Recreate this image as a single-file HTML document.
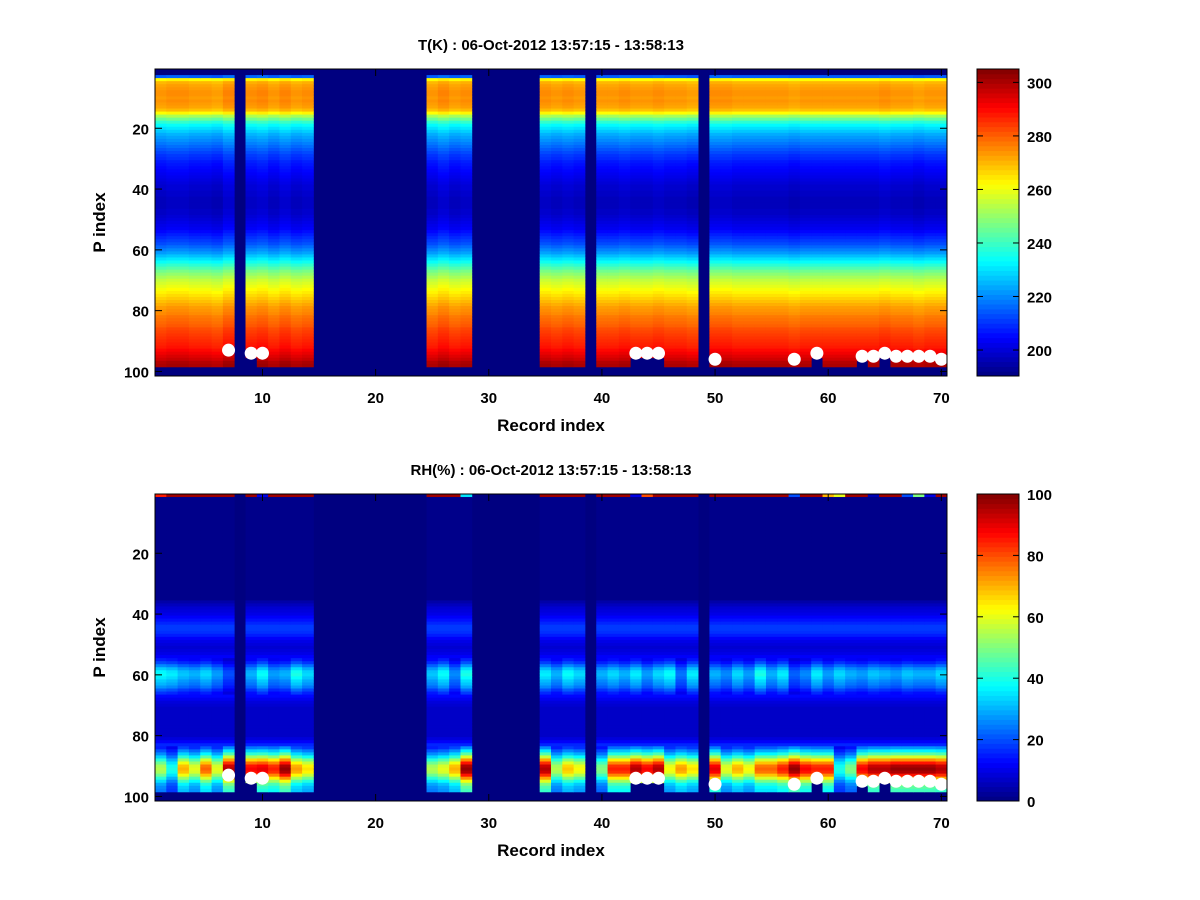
<!DOCTYPE html>
<html><head><meta charset="utf-8">
<style>
body{margin:0;background:#fff;}
svg{display:block;font-family:"Liberation Sans",sans-serif;font-weight:bold;}
</style></head>
<body>
<svg id="fig" width="1200" height="900" viewBox="0 0 1200 900" xmlns="http://www.w3.org/2000/svg">
<rect width="1200" height="900" fill="#fff"/>
<g id="p1"></g>
<g id="p2"></g>
</svg>
<script>
// ---- data ----
const records = Array.from({length:70},(_,i)=>i+1);
const validRecords = [1,2,3,4,5,6,7,9,10,11,12,13,14,25,26,27,28,35,36,37,38,40,41,42,43,44,45,46,47,48,50,51,52,53,54,55,56,57,58,59,60,61,62,63,64,65,66,67,68,69,70];
// temperature profile (K) by P index 1..98; null = missing
const tProfile = [null,null,215,262,270,272,273,274,274,273,274,273,272,269,262,252,245,238,233,230,227,224,222,220,218,216,214,212,210,209,207,206,205,204,203,202,201,200,199,199,198,198,197,197,197,197,198,198,199,200,201,202,203,205,207,209,211,213,216,219,222,226,230,234,238,242,246,249,252,255,257,259,261,263,265,267,269,271,273,274,275,277,278,279,280,282,283,284,285,286,287,288,290,292,294,296,299,300];
// per-record temperature offsets
const tOffset = [0,1,1,0,0,-1,2,0,1,2,0,2,0,1,0,0,0,0,0,0,0,0,0,0,0,2,0,1,0,0,0,0,0,0,1,0,1,0,0,0,0,1,0,0,1,0,0,-1,0,1,1,0,0,0,0,0,-1,0,0,0,0,0,0,0,1,0,0,-1,0,0];
// relative humidity profile (%) by P index 1..98
const rhProfile = [95,1,1,1,1,1,1,1,1,1,1,1,1,1,1,1,1,1,1,1,1,1,1,1,1,1,1,1,1,1,1,1,1,1,1,4,6,8,9,10,12,14,16,18,18,17,15,12,10,9,8,9,10,12,14,18,24,30,34,35,33,30,28,25,20,16,13,11,9,8,7,7,7,7,7,7,7,7,7,7,9,12,16,22,30,38,48,60,70,78,80,78,70,60,50,42,38,36];
// per-record near-surface humidity maxima
const rhLow = [55,40,70,60,78,60,95,0,88,90,85,98,72,65,0,0,0,0,0,0,0,0,0,0,55,60,70,98,0,0,0,0,0,0,95,55,68,62,0,50,85,85,95,88,95,62,72,65,0,90,60,70,62,78,78,85,98,88,85,85,40,50,88,95,95,98,98,98,98,95];
// per-record mid-level humidity band
const rhMid = [38,36,32,30,34,28,20,0,30,38,28,30,40,34,0,0,0,0,0,0,0,0,0,0,32,38,26,40,0,0,0,0,0,0,36,30,38,34,0,30,34,30,36,28,34,38,24,36,0,30,26,34,28,40,30,36,22,26,36,28,34,30,28,32,30,28,32,30,30,34];
// per-record top-level humidity
const rhTop = [85,97,97,97,97,97,97,0,97,10,97,97,97,97,0,0,0,0,0,0,0,0,0,0,97,97,97,35,0,0,0,0,0,0,97,97,97,97,0,97,97,97,10,80,97,97,97,97,0,97,97,97,97,97,97,97,20,97,97,70,60,97,97,5,97,97,20,50,10,97];
// surface markers
const dotRecords = [7,9,10,43,44,45,50,57,59,63,64,65,66,67,68,69,70];
const dotLevels  = [93,94,94,94,94,94,96,96,94,95,95,94,95,95,95,95,96];
// last valid level per record (default 98)
const bottomRecords = [9,43,44,45,59,63,65];
const bottomLevels  = [95,95,95,95,95,96,95];
const tTicks = [200,220,240,260,280,300];
const rhTicks = [0,20,40,60,80,100];
const xTicks = [10,20,30,40,50,60,70];
const yTicks = [20,40,60,80,100];

const NS='http://www.w3.org/2000/svg';
function jet(f){f=Math.max(0,Math.min(1,f));const c=v=>Math.round(255*Math.max(0,Math.min(1,v)));
 return `rgb(${c(1.5-Math.abs(4*f-3))},${c(1.5-Math.abs(4*f-2))},${c(1.5-Math.abs(4*f-1))})`;}
function mk(parent,tag,attrs,txt){const e=document.createElementNS(NS,tag);for(const k in attrs)e.setAttribute(k,attrs[k]);if(txt!==undefined)e.textContent=txt;parent.appendChild(e);return e;}

const AX0=155, AX1=947;
function xs(r){return AX0+(r-0.5)*(AX1-AX0)/70;}

function panel(g, top, valueFn, cmin, cmax, ticks, title){
  const H=307, bottom=top+H;
  const ys=p=>top+(p-0.5)*H/101;
  mk(g,'rect',{x:AX0,y:top,width:AX1-AX0,height:H,fill:jet(0)});
  const cells=mk(g,'g',{});
  
  
  validRecords.forEach(r=>{
    const bi=bottomRecords.indexOf(r);const last=bi>=0?bottomLevels[bi]:98;
    for(let p=1;p<=last;p++){
      const v=valueFn(r,p); if(v===null) continue;
      const x0=xs(r-0.5), x1=xs(r+0.5), y0=ys(p-0.5), y1=ys(p+0.5);
      const el=mk(cells,'rect',{x:x0.toFixed(2),y:y0.toFixed(2),width:(x1-x0+0.4).toFixed(2),height:(y1-y0+0.4).toFixed(2),fill:jet((v-cmin)/(cmax-cmin))});
      
      
    }
  });
  dotRecords.forEach((r,i)=>{
    const c=mk(g,'circle',{cx:xs(r),cy:ys(dotLevels[i]),r:6.5,fill:'#fff'});
    
    
  });
  mk(g,'rect',{x:AX0,y:top,width:AX1-AX0,height:H,fill:'none',stroke:'#000','stroke-width':1});
  xTicks.forEach(t=>{const x=xs(t);
    mk(g,'line',{x1:x,x2:x,y1:bottom,y2:bottom-7,stroke:'#000'});
    mk(g,'line',{x1:x,x2:x,y1:top,y2:top+7,stroke:'#000'});
    const l=mk(g,'text',{x:x,y:bottom+27,'text-anchor':'middle','font-size':15},t);
    
    
  });
  yTicks.forEach(t=>{const y=ys(t);
    mk(g,'line',{x1:AX0,x2:AX0+7,y1:y,y2:y,stroke:'#000'});
    mk(g,'line',{x1:AX1,x2:AX1-7,y1:y,y2:y,stroke:'#000'});
    const l=mk(g,'text',{x:AX0-6,y:y+6,'text-anchor':'end','font-size':15},t);
    
    
  });
  const tt=mk(g,'text',{x:551,y:top-19,'text-anchor':'middle','font-size':15},title);
  
  
  const xl=mk(g,'text',{x:551,y:bottom+55,'text-anchor':'middle','font-size':17},'Record index');
  
  
  const yl=mk(g,'text',{x:0,y:0,'text-anchor':'middle','font-size':17,transform:`translate(105,${top+H/2}) rotate(-90)`},'P index');
  
  
  // colorbar
  const cb=mk(g,'g',{});
  
  
  const CX0=977, CX1=1019, N=64;
  for(let i=0;i<N;i++){
    const y0=bottom-(i+1)*H/N;
    mk(cb,'rect',{x:CX0,y:y0.toFixed(2),width:CX1-CX0,height:(H/N+0.5).toFixed(2),fill:jet((i+0.5)/N)});
  }
  mk(cb,'rect',{x:CX0,y:top,width:CX1-CX0,height:H,fill:'none',stroke:'#000'});
  ticks.forEach(t=>{const y=bottom-(t-cmin)/(cmax-cmin)*H;
    mk(cb,'line',{x1:CX0,x2:CX0+6,y1:y,y2:y,stroke:'#000'});
    mk(cb,'line',{x1:CX1,x2:CX1-6,y1:y,y2:y,stroke:'#000'});
    const l=mk(cb,'text',{x:CX1+8,y:y+6,'font-size':15},t);
    
    
  });
}

panel(document.getElementById('p1'),69,(r,p)=>{
  const v=tProfile[p-1]; return v===null?null:v+tOffset[r-1];
},190.3,305,tTicks,'T(K) : 06-Oct-2012 13:57:15 - 13:58:13');

panel(document.getElementById('p2'),494,(r,p)=>{
  let v=rhProfile[p-1];
  if(p===1) return rhTop[r-1];
  if(p>=84) v=Math.min(100,v*rhLow[r-1]/80);
  else if(p>=55&&p<=66) v=v*rhMid[r-1]/35;
  return v;
},0,100,rhTicks,'RH(%) : 06-Oct-2012 13:57:15 - 13:58:13');
</script>
</body></html>
